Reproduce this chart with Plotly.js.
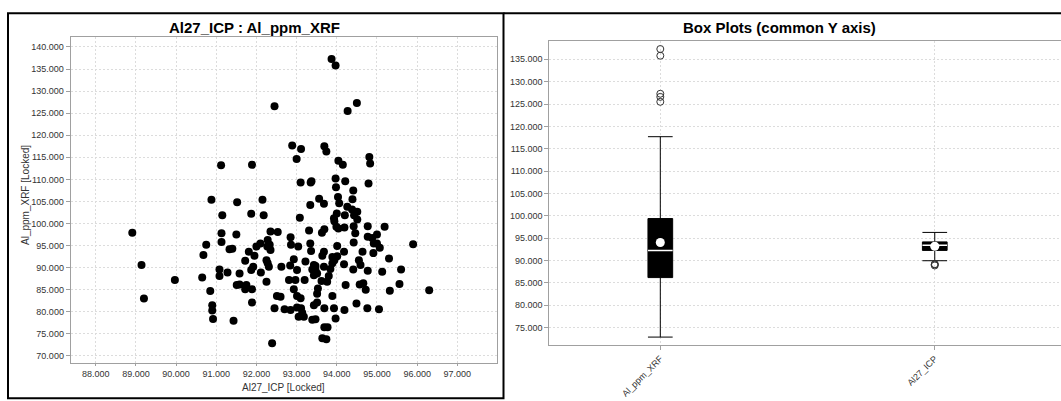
<!DOCTYPE html>
<html>
<head>
<meta charset="utf-8">
<script src="https://cdn.plot.ly/plotly-3.0.1.min.js"></script>
<style>
html,body{margin:0;padding:0;background:#fff;}
#chart{width:1061px;height:401px;}
</style>
</head>
<body>
<div id="chart"></div>
<script>
// Al27_ICP values (x of scatter) paired with Al_ppm_XRF values (y of scatter), in thousands
const icp = [
  93.87,93.97,92.45,94.50,94.27,92.89,93.11,93.00,93.69,93.74,94.04,94.15,94.81,94.83,91.12,91.89,93.10,93.35,93.37,93.97,94.21,93.98,94.41,94.79,90.88,91.52,92.15,93.56,93.34,93.68,94.03,94.06,94.39,94.26,94.38,94.51,94.20,94.43,94.51,93.93,94.00,91.15,91.87,92.18,93.08,
  91.13,91.50,90.75,90.68,91.13,91.33,91.40,92.35,92.53,92.85,92.86,93.04,93.31,93.34,93.63,93.69,93.94,93.99,94.42,94.46,94.42,94.77,94.77,94.88,94.92,95.00,
  95.07,94.91,95.19,94.64,94.18,94.01,93.89,93.68,93.64,93.43,93.39,93.47,93.51,93.43,93.68,93.80,93.76,93.89,93.94,94.22,93.89,94.41,94.55,94.59,94.66,94.72,
  94.77,95.13,95.30,95.32,95.60,95.56,93.22,93.01,92.97,92.81,92.93,92.60,92.51,92.25,92.28,92.31,92.25,92.11,92.00,91.95,91.92,91.87,92.10,92.27,92.35,92.28,
  92.33,91.81,91.72,91.58,91.28,91.08,91.08,90.65,90.85,90.90,90.90,90.92,91.43,91.51,91.58,91.75,91.72,91.89,91.89,92.45,92.70,92.85,93.01,93.10,93.01,93.11,
  93.05,93.18,93.43,93.51,93.39,93.47,93.69,93.93,94.19,93.97,94.49,94.76,95.05,93.69,93.77,93.64,93.74,92.39,
  93.20,94.57,94.04,94.19,95.00,93.36,94.01,92.62,92.84,92.93,93.47,93.84,94.18,93.62,93.14,93.53,93.51,
  88.91,89.14,89.20,89.97,95.90,96.30
];
const xrf = [
  137.3,135.8,126.6,127.3,125.5,117.7,116.9,114.6,117.5,116.3,114.2,113.3,115.1,113.6,113.2,113.3,109.3,109.3,109.6,110.2,109.6,108.2,107.5,109.1,105.4,104.8,105.4,105.6,104.2,104.5,106.0,104.6,105.5,103.8,103.2,102.7,101.9,101.9,100.9,101.2,102.3,101.9,102.2,101.9,101.3,
  97.8,97.5,95.2,92.9,95.8,94.2,94.3,98.2,98.1,96.9,95.2,94.8,98.4,95.5,97.9,98.7,100.5,99.3,99.4,97.8,95.7,99.4,97.0,96.7,95.5,95.5,
  94.5,93.3,99.3,93.6,93.6,92.6,92.4,93.6,92.7,90.6,89.6,89.5,88.7,88.3,90.2,88.1,86.8,91.0,91.7,86.1,83.6,89.6,91.7,90.6,86.5,85.0,
  89.3,89.1,92.1,84.8,89.6,86.3,91.4,89.5,87.2,87.2,85.1,83.4,83.6,91.7,91.0,90.2,86.8,88.9,94.8,92.7,90.2,89.5,95.5,94.8,94.0,96.3,
  95.2,93.6,91.6,88.7,88.9,89.6,88.1,87.8,84.7,81.5,80.3,78.4,78.0,86.1,86.2,86.1,85.1,85.1,82.1,80.8,80.6,80.4,83.6,83.1,81.0,80.8,
  78.9,78.9,81.5,82.1,78.2,78.3,80.8,80.8,80.4,78.5,81.9,80.8,80.6,76.5,76.5,74.0,73.8,72.9,
  87.2,86.2,98.9,99.1,97.5,93.8,94.9,90.2,90.5,91.9,90.4,89.7,90.8,87.0,79.8,85.3,84.1,
  97.9,90.6,83.0,87.2,95.3,84.9
];
const boxCategories = ['Al_ppm_XRF', 'Al27_ICP'];
const scatterTitle = 'Al27_ICP : Al_ppm_XRF';
const boxTitle = 'Box Plots (common Y axis)';
const xTitle = 'Al27_ICP [Locked]';
const yTitle = 'Al_ppm_XRF [Locked]';

function median(a){const s=[...a].sort((p,q)=>p-q);const n=s.length;return n%2?s[(n-1)/2]:(s[n/2-1]+s[n/2])/2;}
function mean(a){return a.reduce((p,q)=>p+q,0)/a.length;}

const W = 1061, H = 401;
const px = v => v / W;
const py = v => 1 - v / H;

const series = [xrf, icp];
const BOXW = 0.09;
const traces = [
  {type:'scatter', mode:'markers', x: icp, y: xrf, xaxis:'x', yaxis:'y',
   marker:{color:'#000', size:8}, hoverinfo:'skip', showlegend:false}
];
series.forEach((vals, i) => {
  traces.push({type:'box', x: vals.map(() => boxCategories[i]), y: vals, xaxis:'x2', yaxis:'y2',
    fillcolor:'#000', line:{color:'#000', width:1}, width: BOXW, whiskerwidth:1,
    boxpoints:'outliers', marker:{symbol:'circle-open', color:'#333', size:7, line:{width:1}},
    showlegend:false, hoverinfo:'skip'});
});
traces.push({type:'scatter', mode:'markers', x: boxCategories, y: series.map(mean), xaxis:'x2', yaxis:'y2',
  marker:{color:'#fff', size:9}, showlegend:false, hoverinfo:'skip'});

const shapes = [
  {type:'rect', xref:'paper', yref:'paper', x0:px(8), x1:px(503.5), y0:py(398.3), y1:py(13.3), line:{color:'#000', width:2}},
  {type:'line', xref:'paper', yref:'paper', x0:px(503.5), x1:1, y0:py(13.3), y1:py(13.3), line:{color:'#000', width:2}}
];
series.forEach((vals, i) => {
  const m = median(vals);
  shapes.push({type:'line', xref:'x2', yref:'y2', x0:i - BOXW/2, x1:i + BOXW/2, y0:m, y1:m, line:{color:'#fff', width:1.5}});
});

const tickFont = {family:'"Liberation Sans", Arial, sans-serif', size:9, color:'#333'};
const gridCommon = {showgrid:true, gridcolor:'#dcdcdc', griddash:'2px,2px', gridwidth:1, zeroline:false,
  showline:true, linecolor:'#a0a0a0', linewidth:1, mirror:true, ticks:'outside', ticklen:4, tickcolor:'#a0a0a0',
  tickfont:tickFont, automargin:false, fixedrange:true};

const layout = {
  width:W, height:H, margin:{l:0, r:0, t:0, b:0}, paper_bgcolor:'#fff', plot_bgcolor:'#fff',
  showlegend:false, boxmode:'overlay',
  font:{family:'"Liberation Sans", Arial, sans-serif', color:'#000'},
  xaxis: Object.assign({}, gridCommon, {domain:[px(70.7), px(496.7)], range:[87.377, 97.98], tick0:88, dtick:1, tickformat:'.3f', anchor:'y', ticklen:2}),
  yaxis: Object.assign({}, gridCommon, {domain:[py(363.3), py(36.7)], range:[68.34, 142.33], tick0:70, dtick:5, tickformat:'.3f', anchor:'x'}),
  xaxis2: Object.assign({}, gridCommon, {domain:[px(549.3), 1], range:[-0.4045, 1.46], type:'category', tickangle:-45, anchor:'y2', categoryorder:'array', categoryarray:boxCategories}),
  yaxis2: Object.assign({}, gridCommon, {domain:[py(345), py(40.7)], range:[71.13, 139.16], tick0:75, dtick:5, tickformat:'.3f', anchor:'x2'}),
  shapes: shapes,
  annotations: [
    {xref:'paper', yref:'paper', x:px(254), y:py(27.5), text:scatterTitle, showarrow:false, xanchor:'center', yanchor:'middle',
     font:{family:'"Liberation Sans", Arial, sans-serif', size:15, color:'#000', weight:'bold'}},
    {xref:'paper', yref:'paper', x:px(779), y:py(27.5), text:boxTitle, showarrow:false, xanchor:'center', yanchor:'middle',
     font:{family:'"Liberation Sans", Arial, sans-serif', size:15, color:'#000', weight:'bold'}},
    {xref:'paper', yref:'paper', x:px(283.3), y:py(387), text:xTitle, showarrow:false, xanchor:'center', yanchor:'middle',
     font:{family:'"Liberation Sans", Arial, sans-serif', size:10, color:'#333'}},
    {xref:'paper', yref:'paper', x:px(25), y:py(195), text:yTitle, showarrow:false, xanchor:'center', yanchor:'middle', textangle:-90,
     font:{family:'"Liberation Sans", Arial, sans-serif', size:10, color:'#333'}}
  ]
};

Plotly.newPlot('chart', traces, layout, {displayModeBar:false, staticPlot:true});
</script>
</body>
</html>
